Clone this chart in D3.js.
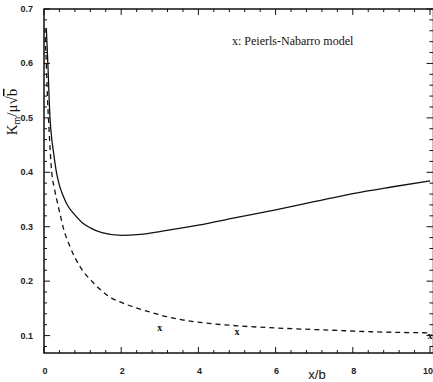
<!DOCTYPE html>
<html><head><meta charset="utf-8">
<script src="https://cdn.jsdelivr.net/npm/d3@7"></script>
<style>body{margin:0;background:#fff}svg{display:block}</style>
</head><body>
<script>
// Data
const solidX = [0.06,0.1,0.155,0.2,0.25,0.31,0.4,0.5,0.62,0.76,1.0,1.2,1.5,2.0,2.5,3.0,3.5,4.0,5.0,6.0,7.0,8.0,9.0,10.0];
const solidY = [0.665,0.60,0.50,0.462,0.435,0.405,0.376,0.356,0.338,0.325,0.307,0.298,0.289,0.284,0.286,0.291,0.297,0.303,0.317,0.331,0.346,0.361,0.373,0.384];
const dashX = [0.02,0.06,0.1,0.13,0.16,0.2,0.27,0.345,0.41,0.5,0.67,0.93,1.28,1.62,2.14,2.66,3.35,4.2,5.0,6.0,7.4,8.5,10.0];
const dashY = [0.665,0.60,0.52,0.48,0.44,0.40,0.37,0.345,0.325,0.298,0.264,0.227,0.197,0.175,0.157,0.145,0.132,0.123,0.118,0.114,0.110,0.107,0.105];
const pnX = [3,5,10];
const pnY = [0.114,0.107,0.100];
const xTicks = [0,2,4,6,8,10];
const yTicks = [0.1,0.2,0.3,0.4,0.5,0.6,0.7];
const legendText = "x: Peierls-Nabarro model";

const W = 433, H = 382;
const svg = d3.select("body").append("svg").attr("width", W).attr("height", H);
const x = d3.scaleLinear().domain([0,10]).range([44,430]);
const y = d3.scaleLinear().domain([0.068,0.7]).range([353,9]);
const L = 44, R = 433.5, T = 9, B = 353;

// frame
svg.append("rect").attr("x",L).attr("y",T).attr("width",R-L).attr("height",B-T)
  .attr("fill","none").attr("stroke","#111").attr("stroke-width",1.5);

const xMinor = d3.range(0,10.001,0.4);
const yMinor = d3.range(0.08,0.7001,0.02);
function near(v, arr){return arr.some(a=>Math.abs(a-v)<1e-6);}
const tk = svg.append("g").attr("stroke","#111").attr("stroke-width",1);
xMinor.forEach(v=>{
  const len = near(v,xTicks)?6:3;
  tk.append("line").attr("x1",x(v)).attr("x2",x(v)).attr("y1",B).attr("y2",B-len);
  tk.append("line").attr("x1",x(v)).attr("x2",x(v)).attr("y1",T).attr("y2",T+len);
});
yMinor.forEach(v=>{
  const len = near(Math.round(v*100)/100,yTicks)?6:3;
  tk.append("line").attr("x1",L).attr("x2",L+len).attr("y1",y(v)).attr("y2",y(v));
  tk.append("line").attr("x1",R).attr("x2",R-len-1).attr("y1",y(v)).attr("y2",y(v));
});

// tick labels
const lab = svg.append("g").attr("font-family","Liberation Sans, Arial, sans-serif")
  .attr("font-size",9).attr("font-weight","bold").attr("fill","#222");
xTicks.forEach(v=>{
  const t = lab.append("text").attr("y",374).text(v);
  if (v === 10) t.attr("x",433).attr("text-anchor","end");
  else t.attr("x",x(v)+1).attr("text-anchor","middle");
});
yTicks.forEach(v=>{
  lab.append("text").attr("x",33).attr("y",y(v)+3).attr("text-anchor","end").text(d3.format(".1f")(v));
});

// axis titles
svg.append("text").attr("x",317).attr("y",379).attr("text-anchor","middle")
  .attr("font-family","Liberation Sans, Arial, sans-serif").attr("font-size",13).attr("fill","#111").text("x/b");

const yl = svg.append("text").attr("transform","translate(17,112) rotate(-90)")
  .attr("text-anchor","middle").attr("font-family","Liberation Serif, Times New Roman, serif")
  .attr("font-size",15).attr("fill","#111");
yl.append("tspan").text("K");
yl.append("tspan").attr("font-size",10).attr("dy",3).text("m");
yl.append("tspan").attr("dy",-3).text("/μ");
yl.append("tspan").text("√");
yl.append("tspan").style("text-decoration","overline").text("b");

// curves
const line = d3.line().x(d=>x(d[0])).y(d=>y(d[1])).curve(d3.curveMonotoneX);
svg.append("path").datum(d3.zip(solidX,solidY)).attr("d",line)
  .attr("fill","none").attr("stroke","#111").attr("stroke-width",1.3);
svg.append("path").datum(d3.zip(dashX,dashY)).attr("d",line)
  .attr("fill","none").attr("stroke","#111").attr("stroke-width",1.3).attr("stroke-dasharray","5,4");

// Peierls-Nabarro points
svg.append("g").selectAll("text").data(d3.zip(pnX,pnY)).join("text")
  .attr("x",d=>x(d[0])).attr("y",d=>y(d[1])+3).attr("text-anchor","middle")
  .attr("font-family","Liberation Serif, Times New Roman, serif").attr("font-size",10)
  .attr("font-weight","bold").attr("fill","#111").text("x");

// legend
svg.append("text").attr("x",232).attr("y",45)
  .attr("font-family","Liberation Serif, Times New Roman, serif").attr("font-size",12)
  .attr("fill","#111").text(legendText);
</script>
</body></html>
